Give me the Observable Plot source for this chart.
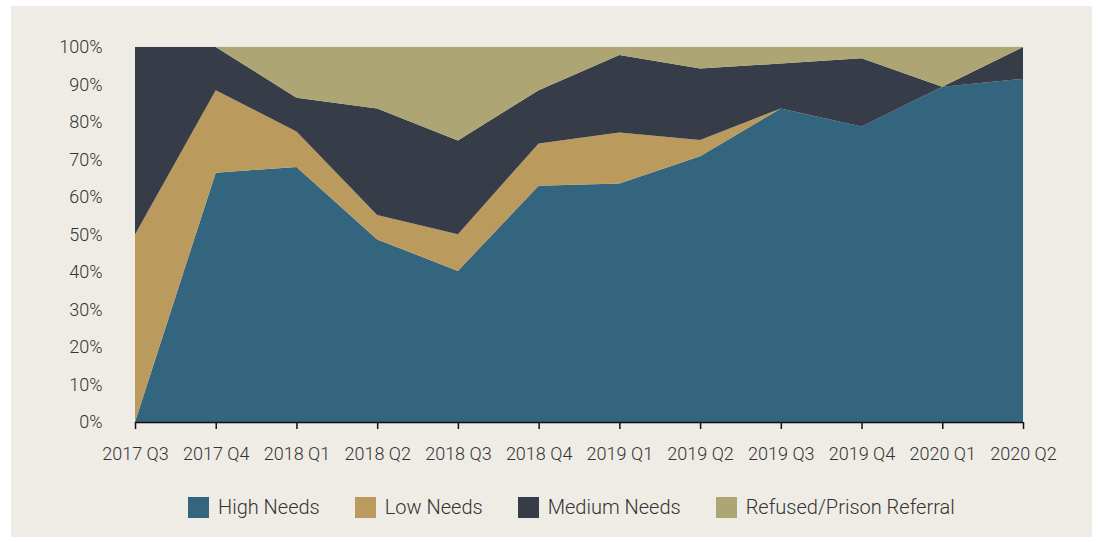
<!DOCTYPE html>
<html>
<head>
<meta charset="utf-8">
<script src="https://cdn.jsdelivr.net/npm/d3@7"></script>
<script src="https://cdn.jsdelivr.net/npm/@observablehq/plot@0.6"></script>
<style>
  html, body { margin: 0; padding: 0; background: #ffffff; }
  #panel { position: absolute; left: 11px; top: 6px; width: 1081px; height: 531px; background: #efece6; font-family: Roboto, "Noto Sans", sans-serif; font-weight: 300; color: #333; }
  #chart svg { display: block; }
  #legend { position: absolute; left: 177px; top: 489px; display: flex; align-items: center; font-size: 20px; }
  .item { display: flex; align-items: center; margin-right: 35px; }
  .sw { width: 21px; height: 21px; margin-right: 9px; }
</style>
</head>
<body>
<div id="panel"><div id="chart"></div><div id="legend"></div></div>
<script>
const quarters = ["2017 Q3","2017 Q4","2018 Q1","2018 Q2","2018 Q3","2018 Q4","2019 Q1","2019 Q2","2019 Q3","2019 Q4","2020 Q1","2020 Q2"];
const seriesNames = ["High Needs","Low Needs","Medium Needs","Refused/Prison Referral"];
const seriesColors = ["#33657f","#bb9a5e","#363c48","#aea574"];
const highNeeds   = [0, 66.5, 68, 48.7, 40.3, 63, 63.6, 70.9, 83.6, 78.8, 89.4, 91.5];
const lowNeeds    = [50, 22, 9.5, 6.5, 9.8, 11.3, 13.6, 4.3, 0, 0, 0, 0];
const mediumNeeds = [50, 11.5, 9, 28.4, 25, 14.2, 20.7, 19.1, 12, 18.2, 0, 8.5];
const refused     = [0, 0, 13.5, 16.4, 24.9, 11.5, 2.1, 5.7, 4.4, 3, 10.6, 0];
const yTicks = [0,10,20,30,40,50,60,70,80,90,100];

const seriesValues = [highNeeds, lowNeeds, mediumNeeds, refused];
const data = [];
seriesNames.forEach((s, i) => quarters.forEach((q, j) => data.push({quarter: q, series: s, value: seriesValues[i][j]})));

const chart = Plot.plot({
  width: 1081,
  height: 474,
  marginLeft: 124,
  marginRight: 69,
  marginTop: 41,
  marginBottom: 58,
  style: {fontFamily: "Roboto, 'Noto Sans', sans-serif", fontSize: "18px", fontWeight: 300, color: "#333", background: "transparent"},
  x: {type: "point", domain: quarters, padding: 0, round: false, label: null},
  y: {domain: [0, 100], label: null},
  color: {domain: seriesNames, range: seriesColors},
  marks: [
    Plot.gridY(yTicks, {stroke: "#cfcfcf", strokeOpacity: 1, strokeWidth: 1.5}),
    Plot.areaY(data, {x: "quarter", y: "value", fill: "series", z: "series", order: seriesNames, curve: "linear"}),
    Plot.axisY(yTicks, {tickSize: 0, tickPadding: 33, tickFormat: d => d + "%", fill: "#333", label: null}),
    Plot.ruleY([0], {stroke: "#111", strokeWidth: 1.5}),
    Plot.axisX(quarters, {tickSize: 7, tickPadding: 18, stroke: "#111", strokeWidth: 1.5, fill: "#333", label: null})
  ]
});
document.getElementById("chart").appendChild(chart);

const legend = document.getElementById("legend");
seriesNames.forEach((s, i) => {
  const item = document.createElement("div");
  item.className = "item";
  const sw = document.createElement("div");
  sw.className = "sw";
  sw.style.background = seriesColors[i];
  const t = document.createElement("span");
  t.textContent = s;
  item.appendChild(sw); item.appendChild(t);
  legend.appendChild(item);
});
</script>
</body>
</html>
